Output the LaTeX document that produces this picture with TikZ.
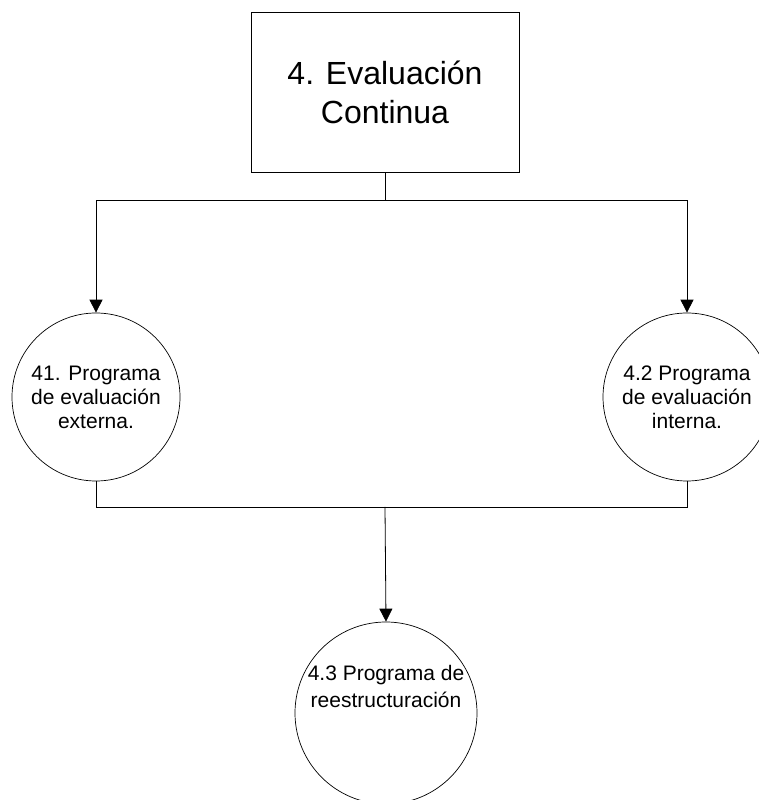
\documentclass[tikz,border=0pt]{standalone}
\usepackage{fontspec}
\setmainfont{Liberation Sans}
\usepackage{tikz}
\usetikzlibrary{arrows.meta}
\tikzstyle{caja} = [draw, rectangle, minimum width=268pt, minimum height=160pt, align=center, line width=0.8pt, font=\fontsize{32}{39}\selectfont]
\tikzstyle{proceso} = [draw, circle, minimum size=168pt, inner sep=0pt, align=center, line width=0.7pt, font=\fontsize{21}{24}\selectfont]
\tikzstyle{flecha} = [-{Triangle[width=13pt,length=13pt]}, line width=0.8pt]
\tikzstyle{linea} = [line width=0.8pt]

\begin{document}
\begin{tikzpicture}[x=1pt, y=1pt]
    \useasboundingbox (0,0) rectangle (758,800);
    \node[caja] (eval) at (385,708) {4. Evaluación\\Continua};
    \node[proceso] (ext) at (96,403) {41. Programa\\de evaluación\\externa.};
    \node[proceso] (int) at (687,403) {4.2 Programa\\de evaluación\\interna.};
    \node[proceso, minimum size=182pt] (reest) at (386,87) {};
    \node[align=center, font=\fontsize{21}{27}\selectfont] (reesttxt) at (386,114) {4.3 Programa de\\reestructuración};
    \coordinate (bus) at (385,293);
    \draw[flecha] (eval.south) -- ++(0,-28) -| (ext.north);
    \draw[flecha] (eval.south) -- ++(0,-28) -| (int.north);
    \draw[linea] (ext.south) |- (bus);
    \draw[linea] (int.south) |- (bus);
    \draw[flecha] (bus) -- (reest.north);
\end{tikzpicture}
\end{document}
